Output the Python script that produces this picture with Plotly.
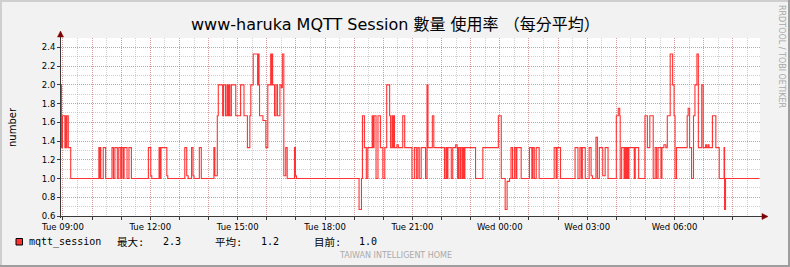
import pandas as pd
import plotly.graph_objects as go

# ---------------- data ----------------
start_time = "2024-01-02 08:56"          # Tuesday, graph start (end-1d)
span_minutes = 1440

# step change points: minutes after start, and value from that minute on
t_min = [0, 1, 3, 8, 9, 11, 12, 15, 20, 78, 80, 81, 82, 87, 92, 105, 108, 111, 116, 119,
         123, 125, 128, 130, 136, 140, 145, 180, 185, 187, 202, 204, 206, 218, 220, 255, 259, 262,
         269, 272, 274, 285, 289, 315, 317, 322, 324, 333, 335, 339, 342, 344, 346, 348, 351,
         360, 370, 377, 384, 389, 391, 396, 405, 406, 408, 409, 416, 422, 426, 432, 433, 435,
         436, 440, 443, 446, 451, 454, 456, 459, 463, 466, 481, 483, 485, 614, 619, 621, 625,
         629, 632, 641, 643, 645, 649, 653, 658, 663, 667, 671, 677, 679, 682, 684, 685, 687,
         692, 695, 704, 708, 723, 728, 732, 735, 738, 742, 751, 754, 756, 765, 768, 790, 793,
         795, 797, 804, 807, 813, 816, 817, 819, 822, 823, 826, 828, 830, 832, 854, 869, 901,
         907, 915, 919, 924, 927, 930, 934, 937, 939, 948, 965, 970, 972, 975, 979, 985, 1016,
         1020, 1022, 1029, 1059, 1065, 1069, 1072, 1074, 1080, 1088, 1092, 1095, 1102, 1105,
         1109, 1116, 1121, 1127, 1144, 1148, 1151, 1152, 1155, 1160, 1162, 1164, 1166, 1168,
         1170, 1181, 1183, 1190, 1203, 1208, 1213, 1220, 1224, 1227, 1230, 1236, 1238, 1242,
         1246, 1249, 1255, 1260, 1263, 1265, 1268, 1290, 1292, 1295, 1299, 1303, 1306, 1310,
         1313, 1320, 1323, 1328, 1330, 1333, 1335, 1342, 1349, 1356, 1366, 1367, 1369, 1438]
vals = [2.0, 1.33, 1.67, 1.33, 1.67, 1.33, 1.67, 1.33, 1.0, 1.33, 1.0, 1.33, 1.0, 1.33, 1.0, 1.33, 1.0, 1.33, 1.0, 1.33,
        1.0, 1.33, 1.0, 1.33, 1.0, 1.33, 1.0, 1.33, 1.03, 1.0, 1.33, 1.0, 1.33, 1.03, 1.0, 1.33, 1.03, 1.0,
        1.33, 1.03, 1.0, 1.33, 1.0, 1.33, 1.03, 1.67, 2.0, 1.67, 2.0, 1.67, 2.0, 1.67, 2.0, 1.67, 2.0,
        1.67, 2.0, 1.67, 1.33, 1.67, 2.0, 2.33, 2.0, 2.33, 2.0, 1.67, 1.62, 1.33, 2.0, 2.33, 2.0, 2.33,
        2.0, 1.67, 2.0, 1.67, 2.0, 1.97, 2.33, 1.03, 1.33, 1.0, 1.33, 1.03, 1.0, 0.67, 1.0, 1.67, 1.33,
        1.0, 1.33, 1.67, 1.33, 1.67, 1.0, 1.67, 1.33, 1.0, 1.33, 2.0, 1.67, 1.33, 1.67, 1.33, 1.67, 1.33,
        1.36, 1.33, 1.67, 1.33, 1.0, 1.33, 1.0, 1.33, 1.0, 1.33, 1.0, 2.0, 1.33, 1.67, 1.33, 1.0, 1.33,
        1.0, 1.33, 1.0, 1.33, 1.36, 1.33, 1.0, 1.33, 1.0, 1.33, 1.0, 1.33, 1.0, 1.33, 1.0, 1.33, 1.67,
        1.0, 0.67, 0.97, 1.0, 1.33, 1.0, 1.33, 1.0, 1.33, 1.0, 1.33, 1.0, 1.33, 1.0, 1.33, 1.0, 1.33,
        1.0, 1.33, 1.0, 1.33, 1.0, 1.33, 1.0, 1.33, 1.0, 1.33, 1.03, 1.0, 1.44, 1.0,
        1.33, 1.03, 1.33, 1.0, 1.67, 1.75, 1.67, 1.0, 1.33, 1.0, 1.33, 1.0, 1.33, 1.0,
        1.33, 1.0, 1.33, 1.0, 1.67, 1.33, 1.67, 1.0, 1.33, 1.0, 1.33, 1.0, 1.33, 1.36,
        1.33, 1.67, 2.33, 2.0, 1.67, 1.0, 1.33, 1.67, 1.75, 1.33, 1.0, 1.67, 2.0, 2.33,
        1.33, 2.0, 1.33, 1.36, 1.33, 1.36, 1.33, 1.67, 1.33, 1.0, 1.33, 0.67, 1.0, 1.0]

series_name = "mqtt_session"
title_text = "www-haruka MQTT Session 數量 使用率 （每分平均）"
y_title = "number"
x_tick_labels = ["Tue 09:00", "Tue 12:00", "Tue 15:00", "Tue 18:00",
                 "Tue 21:00", "Wed 00:00", "Wed 03:00", "Wed 06:00"]
first_hour = "2024-01-02 09:00"
y_tick_vals = [0.6, 0.8, 1.0, 1.2, 1.4, 1.6, 1.8, 2.0, 2.2, 2.4]
y_tick_labels = ["0.6", "0.8", "1.0", "1.2", "1.4", "1.6", "1.8", "2.0", "2.2", "2.4"]
y_range = [0.6, 2.5]
stat_names = ["最大:", "平均:", "目前:"]
stat_values = ["2.3", "1.2", "1.0"]
watermark = "TAIWAN INTELLIGENT HOME"
side_text = "RRDTOOL / TOBI OETIKER"

# ---------------- build ----------------
t0 = pd.Timestamp(start_time)
times = [t0 + pd.Timedelta(minutes=m) for m in t_min]
x_end = t0 + pd.Timedelta(minutes=span_minutes)
hour_ticks = pd.date_range(first_hour, periods=24, freq="h")
hour_text = [x_tick_labels[i // 3] if i % 3 == 0 else "" for i in range(len(hour_ticks))]

W, H = 790, 267
L, R, T, B = 61, 30, 38, 51
PW, PH = W - L - R, H - T - B


def px(x):
    return (x - L) / PW


def py(y):
    return (H - B - y) / PH


LINE_RED = "#FF3333"
AXIS = "#3A3A3A"
ARROW = "#7F0000"
MGRID = "rgba(222,80,80,0.42)"
GRID = "rgba(143,143,143,0.42)"
FONT = "DejaVu Sans, Noto Sans CJK TC, sans-serif"
MONO = "DejaVu Sans Mono, Noto Sans CJK TC, monospace"

fig = go.Figure()
fig.add_trace(go.Scatter(x=times, y=vals, mode="lines", line_shape="hv",
                         line=dict(color=LINE_RED, width=1.1), name=series_name,
                         hoverinfo="skip"))

fig.update_layout(
    width=W, height=H, margin=dict(l=L, r=R, t=T, b=B, pad=0),
    paper_bgcolor="#F2F2F2", plot_bgcolor="#FFFFFF", showlegend=False,
    xaxis=dict(type="date", range=[t0, x_end], tickmode="array", tickvals=hour_ticks,
               ticktext=hour_text, showgrid=True, gridcolor=MGRID, griddash="1px,1px",
               gridwidth=1, zeroline=False, showline=False, ticks="outside", ticklen=3,
               tickcolor=AXIS, tickfont=dict(family=FONT, size=8.5, color="#000"),
               minor=dict(dtick=30 * 60 * 1000, tick0=first_hour, showgrid=True,
                          gridcolor=GRID, griddash="1px,1px", gridwidth=1),
               fixedrange=True),
    yaxis=dict(range=y_range, tickmode="array", tickvals=y_tick_vals, ticktext=y_tick_labels,
               showgrid=True, gridcolor=MGRID, griddash="1px,1px", gridwidth=1,
               zeroline=False, showline=False, ticks="outside", ticklen=3, tickcolor=AXIS,
               tickfont=dict(family=FONT, size=8.5, color="#000"),
               minor=dict(dtick=0.1, tick0=0.6, showgrid=True, gridcolor=GRID,
                          griddash="1px,1px", gridwidth=1),
               fixedrange=True),
)

shapes = []
# 3D frame
shapes.append(dict(type="rect", xref="paper", yref="paper", x0=px(0), x1=px(W), y0=py(0), y1=py(2),
                   fillcolor="#CFCFCF", line=dict(width=0), layer="below"))
shapes.append(dict(type="rect", xref="paper", yref="paper", x0=px(0), x1=px(2), y0=py(0), y1=py(H),
                   fillcolor="#CFCFCF", line=dict(width=0), layer="below"))
shapes.append(dict(type="rect", xref="paper", yref="paper", x0=px(0), x1=px(W), y0=py(H - 2), y1=py(H),
                   fillcolor="#9E9E9E", line=dict(width=0), layer="below"))
shapes.append(dict(type="rect", xref="paper", yref="paper", x0=px(W - 2), x1=px(W), y0=py(0), y1=py(H),
                   fillcolor="#9E9E9E", line=dict(width=0), layer="below"))
# axes
shapes.append(dict(type="line", xref="paper", yref="paper", x0=px(60.5), x1=px(60.5),
                   y0=py(218), y1=py(35), line=dict(color=AXIS, width=1)))
shapes.append(dict(type="line", xref="paper", yref="paper", x0=px(58), x1=px(764),
                   y0=py(216.5), y1=py(216.5), line=dict(color=AXIS, width=1)))
# arrows
shapes.append(dict(type="path", xref="paper", yref="paper",
                   path=f"M {px(57.5)} {py(37)} L {px(63.5)} {py(37)} L {px(60.5)} {py(31)} Z",
                   fillcolor=ARROW, line=dict(color=ARROW, width=0.5)))
shapes.append(dict(type="path", xref="paper", yref="paper",
                   path=f"M {px(762)} {py(213.5)} L {px(762)} {py(219.5)} L {px(768)} {py(216.5)} Z",
                   fillcolor=ARROW, line=dict(color=ARROW, width=0.5)))
# legend swatch
shapes.append(dict(type="rect", xref="paper", yref="paper", x0=px(16), x1=px(22.5),
                   y0=py(238.5), y1=py(245), fillcolor=LINE_RED, line=dict(color="#000", width=1)))
fig.update_layout(shapes=shapes)

ann = []
ann.append(dict(text=title_text, x=px(395), y=py(25), xref="paper", yref="paper",
                xanchor="center", yanchor="middle", showarrow=False,
                font=dict(family=FONT, size=16, color="#000")))
ann.append(dict(text=y_title, x=px(12), y=py(127), xref="paper", yref="paper", textangle=-90,
                xanchor="center", yanchor="middle", showarrow=False,
                font=dict(family=FONT, size=10, color="#000")))
ann.append(dict(text=side_text, x=px(781.5), y=py(56.5), xref="paper", yref="paper", textangle=90,
                xanchor="center", yanchor="middle", showarrow=False,
                font=dict(family=FONT, size=8, color="#A8A8A8")))
ann.append(dict(text=watermark, x=px(395), y=py(255), xref="paper", yref="paper",
                xanchor="center", yanchor="middle", showarrow=False,
                font=dict(family=FONT, size=8, color="#AAAAAA")))
ann.append(dict(text=series_name, x=px(27), y=py(241.5), xref="paper", yref="paper",
                xanchor="left", yanchor="middle", showarrow=False,
                font=dict(family=MONO, size=10, color="#000")))
for name, value, xn, xv in zip(stat_names, stat_values, [115, 213, 312], [161, 259, 357]):
    ann.append(dict(text=name, x=px(xn), y=py(241.5), xref="paper", yref="paper",
                    xanchor="left", yanchor="middle", showarrow=False,
                    font=dict(family=MONO, size=10.5, color="#000")))
    ann.append(dict(text=value, x=px(xv), y=py(241.5), xref="paper", yref="paper",
                    xanchor="left", yanchor="middle", showarrow=False,
                    font=dict(family=MONO, size=10, color="#000")))
fig.update_layout(annotations=ann)

fig.write_html("out.html")
